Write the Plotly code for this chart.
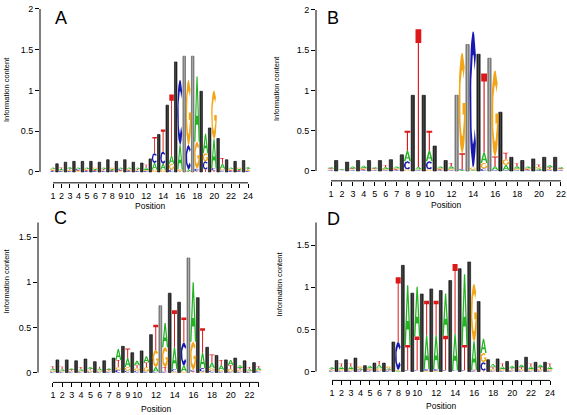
import numpy as np
import plotly.graph_objects as go

# ---------------- data ----------------
# Panel A (24 positions, 23 bars between positions)
pa_A = [.02, .015, .02, .02, .02, .015, .02, .015, .02, .02, .02, .03, .08, .07, .10, .30, .02, .80, .24, .35, .06, .02, .015, .02]
pa_C = [.01, .01, .01, .015, .01, .01, .01, .01, .015, .01, .01, .01, .12, .15, .03, .80, .30, .03, .10, .03, .02, .01, .01, .01]
pa_G = [.015, .01, .015, .01, .015, .02, .01, .02, .01, .015, .01, .015, .03, .03, .07, .02, .80, .33, .10, .60, .02, .015, .02, .015]
pa_T = [.01, .02, .015, .01, .01, .01, .015, .01, .01, .01, .015, .035, .20, .27, .75, .01, .01, .01, .03, .02, .07, .01, .01, .015]
pa_bars = [0.10, 0.12, 0.13, 0.13, 0.13, 0.12, 0.15, 0.13, 0.15, 0.12, 0.11, 0.16,
           0.46, 0.82, 1.35, 1.42, 1.42, 0.99, 0.54, 0.41, 0.15, 0.13, 0.14]
pa_gray = [0] * 15 + [1, 1] + [0] * 6

# Panel B (22 positions, 21 bars)
pb_A = [.02, .01, .025, .03, .02, .02, .02, .13, .03, .13, .02, .03, .01, .01, .13, .05, .065, .03, .02, .02, .025, .02]
pb_C = [.01, .005, .01, .01, .01, .01, .01, .10, .01, .10, .01, .01, .01, 1.69, .03, .01, .01, .01, .01, .01, .01, .01]
pb_G = [.01, .005, .01, .015, .01, .015, .015, .02, .01, .02, .015, .02, 1.25, .03, .07, 1.07, .07, .02, .015, .02, .015, .01]
pb_T = [.01, .005, .01, .01, .01, .025, .01, .25, 1.71, .25, .01, .04, .20, .005, .98, .12, .08, .035, .01, .03, .02, .01]
pb_bars = [0.13, 0.11, 0.13, 0.13, 0.13, 0.14, 0.20, 0.94, 0.94, 0.31, 0.13, 0.94,
           1.57, 1.45, 1.40, 0.73, 0.17, 0.13, 0.15, 0.17, 0.17]
pb_gray = [0] * 11 + [1, 1, 0, 1] + [0] * 6

# Panel C (23 positions, 22 bars)
pc_A = [.02, .02, .015, .02, .02, .02, .015, .12, .10, .05, .07, .05, .27, .24, .07, .66, .17, .06, .05, .06, .03, .02, .02]
pc_C = [.01, .01, .01, .01, .01, .01, .01, .03, .02, .02, .01, .01, .01, .03, .25, .02, .04, .02, .01, .01, .01, .01, .015]
pc_G = [.015, .01, .01, .01, .015, .015, .01, .03, .04, .03, .05, .19, .22, .01, .01, .31, .01, .03, .02, .03, .02, .01, .015]
pc_T = [.025, .025, .01, .02, .015, .02, .01, .08, .105, .03, .05, .28, .05, .41, .28, .01, .27, .09, .06, .04, .02, .02, .02]
pc_bars = [0.14, 0.14, 0.13, 0.15, 0.12, 0.13, 0.16, 0.29, 0.22, 0.24, 0.42,
           0.74, 0.88, 0.78, 1.27, 0.83, 0.28, 0.19, 0.14, 0.16, 0.13, 0.11]
pc_gray = [0] * 11 + [1, 0, 0, 1] + [0] * 7

# Panel D (24 positions, 23 bars)
pd_A = [.02, .03, .03, .02, .03, .04, .02, .01, .71, .59, .40, .40, .50, .43, .84, .34, .17, .04, .03, .03, .03, .03, .03, .03]
pd_C = [.01, .01, .01, .01, .01, .01, .01, .33, .01, .01, .02, .02, .01, .01, .01, .01, .10, .01, .01, .01, .01, .01, .01, .01]
pd_G = [.01, .02, .02, .02, .02, .03, .02, .01, .005, .005, .01, .01, .005, .005, .005, .68, .11, .02, .02, .01, .02, .02, .02, .02]
pd_T = [.01, .035, .035, .01, .01, .045, .01, .77, .30, .40, .41, .41, .41, .83, .30, .01, .01, .02, .035, .02, .02, .035, .02, .035]
pd_bars = [0.13, 0.14, 0.16, 0.07, 0.10, 0.10, 0.35, 1.26, 0.93, 0.92, 0.98, 0.96,
           1.08, 1.22, 1.30, 0.83, 0.14, 0.15, 0.12, 0.13, 0.17, 0.11, 0.11]
pd_gray = [0] * 23

panel_labels = ["A", "B", "C", "D"]

# ---------------- glyphs (unit box) ----------------
LETTERS = ["A", "C", "G", "T"]
COLORS = {"A": "#22B522", "C": "#1818B0", "G": "#F2A516", "T": "#DD1818"}


def arc(cx, cy, rx, ry, t0, t1, k=28):
    t = np.radians(np.linspace(t0, t1, k))
    return list(cx + rx * np.cos(t)), list(cy + ry * np.sin(t))


def make_glyphs():
    g = {}
    g["T"] = ([0.1, 0.9, 0.9, 0.58, 0.58, 0.42, 0.42, 0.1],
              [1, 1, 0.9, 0.9, 0, 0, 0.9, 0.9])
    g["A"] = ([0, 0.22, 0.32, 0.68, 0.78, 1, 0.6, 0.4, 0, 0.37, 0.5, 0.63, 0.37, 0],
              [0, 0, 0.26, 0.26, 0, 0, 1, 1, 0, 0.4, 0.76, 0.4, 0.4, 0])
    ox, oy = arc(0.5, 0.5, 0.5, 0.5, 40, 320)
    ix, iy = arc(0.5, 0.5, 0.27, 0.33, 320, 40)
    g["C"] = (ox + ix, oy + iy)
    ox, oy = arc(0.5, 0.5, 0.5, 0.5, 45, 360)
    ix, iy = arc(0.5, 0.5, 0.27, 0.33, 340, 45)
    g["G"] = (ox + [0.55, 0.55] + ix, oy + [0.5, 0.38] + iy)
    return {k: (np.array(v[0]), np.array(v[1])) for k, v in g.items()}


GLYPHS = make_glyphs()
LW = 0.66        # letter column width (position units)
LOFF = -0.02     # letter column offset
BW = 0.30        # bar width
BOFF = 0.47      # bar offset from position

fig = go.Figure()


def add_panel(hA, hC, hG, hT, bars, gray, xa, ya):
    n = len(hA)
    heights = {"A": hA, "C": hC, "G": hG, "T": hT}
    paths = {L: ([], []) for L in LETTERS}
    for i in range(n):
        p = i + 1 + LOFF
        order = sorted(LETTERS, key=lambda L: heights[L][i])
        base = 0.0
        for L in order:
            h = heights[L][i]
            gx, gy = GLYPHS[L]
            xs = p + (gx - 0.5) * LW
            ys = base + gy * h
            paths[L][0].extend(list(xs) + [None])
            paths[L][1].extend(list(ys) + [None])
            base += h
    for L in LETTERS:
        fig.add_trace(go.Scatter(x=paths[L][0], y=paths[L][1], mode="lines",
                                 fill="toself", fillcolor=COLORS[L],
                                 line=dict(width=0, color=COLORS[L]),
                                 xaxis=xa, yaxis=ya, hoverinfo="skip",
                                 showlegend=False))
    bx = [i + 1 + BOFF for i in range(len(bars))]
    fig.add_trace(go.Bar(x=bx, y=bars, width=BW, xaxis=xa, yaxis=ya,
                         marker=dict(color=["#8a8a8a" if g else "#262626" for g in gray],
                                     line=dict(color=["#4a4a4a" if g else "#0a0a0a" for g in gray], width=0.6)),
                         hoverinfo="skip", showlegend=False))
    fig.add_trace(go.Bar(x=bx, y=bars, width=BW * 0.3, xaxis=xa, yaxis=ya,
                         marker=dict(color=["#b2b2b2" if g else "#4c4c4c" for g in gray], line=dict(width=0)),
                         hoverinfo="skip", showlegend=False))


add_panel(pa_A, pa_C, pa_G, pa_T, pa_bars, pa_gray, "x", "y")
add_panel(pb_A, pb_C, pb_G, pb_T, pb_bars, pb_gray, "x2", "y2")
add_panel(pc_A, pc_C, pc_G, pc_T, pc_bars, pc_gray, "x3", "y3")
add_panel(pd_A, pd_C, pd_G, pd_T, pd_bars, pd_gray, "x4", "y4")

W, H = 567, 415
FONT = "Liberation Sans, Arial, Helvetica, sans-serif"

# layout geometry (pixels): left, right, top, bottom, x-range, y-range
geo = [
    dict(l=40, r=258, t=4, b=180, xr=[-0.533, 25.17], yr=[-0.1333, 2.0], n=len(pa_A), yt=[0, 0.5, 1, 1.5, 2]),
    dict(l=316, r=566, t=5, b=178, xr=[-0.37, 22.46], yr=[-0.1227, 2.0], n=len(pb_A), yt=[0, 0.5, 1, 1.5, 2]),
    dict(l=38, r=265, t=220, b=382, xr=[-0.60, 23.65], yr=[-0.1095, 1.665], n=len(pc_A), yt=[0, 0.5, 1, 1.5]),
    dict(l=316, r=560, t=220, b=380, xr=[-0.69, 25.05], yr=[-0.1055, 1.77], n=len(pd_A), yt=[0, 0.5, 1, 1.5]),
]


def tick_label(v):
    return str(v) if (v <= 10 or v % 2 == 0) else ""


def fmt(v):
    return "0" if v == 0 else ("%g" % v)


layout = dict(width=W, height=H, margin=dict(l=0, r=0, t=0, b=0),
              paper_bgcolor="white", plot_bgcolor="white", barmode="overlay",
              showlegend=False, font=dict(family=FONT, color="black"))
shapes = []
annotations = []
for k, g in enumerate(geo):
    sx = "" if k == 0 else str(k + 1)
    xd = [g["l"] / W, g["r"] / W]
    yd = [1 - g["b"] / H, 1 - g["t"] / H]
    tv = list(range(1, g["n"] + 1))
    layout["xaxis" + sx] = dict(domain=xd, range=g["xr"], anchor="y" + sx,
                                tickvals=tv, ticktext=[tick_label(v) for v in tv],
                                ticks="outside", ticklen=4, tickwidth=1, tickcolor="black",
                                tickangle=0,
                                showline=False, showgrid=False, zeroline=False,
                                tickfont=dict(size=9, family=FONT, color="black"), fixedrange=True)
    layout["yaxis" + sx] = dict(domain=yd, range=g["yr"], anchor="x" + sx,
                                tickvals=g["yt"], ticktext=[fmt(v) for v in g["yt"]],
                                ticks="outside", ticklen=4, tickwidth=1, tickcolor="black",
                                showline=False, showgrid=False, zeroline=False,
                                tickfont=dict(size=9, family=FONT, color="black"), fixedrange=True)
    # R-style detached axis lines
    shapes.append(dict(type="line", xref="x" + sx, yref="y" + sx + " domain",
                       x0=1, x1=g["n"], y0=0, y1=0, line=dict(color="black", width=1)))
    shapes.append(dict(type="line", xref="x" + sx + " domain", yref="y" + sx,
                       x0=0, x1=0, y0=0, y1=g["yr"][1], line=dict(color="black", width=1)))


def px(x):
    return x / W


def py(y):
    return 1 - y / H


for (xc, yc) in [(150, 203), (446, 202), (156, 409), (441, 406)]:
    annotations.append(dict(text="Position", x=px(xc), y=py(yc), xref="paper", yref="paper",
                            showarrow=False, xanchor="center", yanchor="middle",
                            font=dict(size=8.5, family=FONT, color="black")))
for (xc, yc) in [(7, 86), (277, 85), (7, 280), (280, 283)]:
    annotations.append(dict(text="Information content", x=px(xc), y=py(yc), xref="paper", yref="paper",
                            showarrow=False, xanchor="center", yanchor="middle", textangle=-90,
                            font=dict(size=7.5, family=FONT, color="black")))
for lab, (xc, yc) in zip(panel_labels, [(61, 13), (333, 13), (60, 216), (333, 217)]):
    annotations.append(dict(text=lab, x=px(xc), y=py(yc), xref="paper", yref="paper",
                            showarrow=False, xanchor="center", yanchor="middle",
                            font=dict(size=18, family=FONT, color="black")))

layout["shapes"] = shapes
layout["annotations"] = annotations
fig.update_layout(**layout)
fig.write_html("out.html", config={"displayModeBar": False, "staticPlot": True},
               post_script="document.body.style.margin='0px';document.body.style.overflow='hidden';")
